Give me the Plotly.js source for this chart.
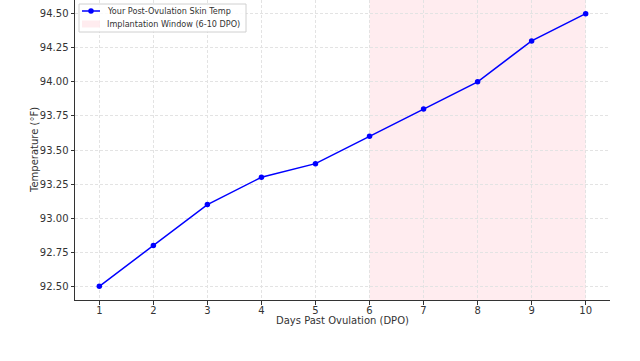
<!DOCTYPE html>
<html><head><meta charset="utf-8">
<script src="https://cdn.plot.ly/plotly-3.0.1.min.js"></script>
<style>html,body{margin:0;padding:0;background:#fff}#chart{width:640px;height:361px}</style>
</head><body><div id="chart"></div>
<script>
const days = [1, 2, 3, 4, 5, 6, 7, 8, 9, 10];
const temps = [92.5, 92.8, 93.1, 93.3, 93.4, 93.6, 93.8, 94.0, 94.3, 94.5];
const windowStart = 6;
const windowEnd = 10;
const xTicks = [1, 2, 3, 4, 5, 6, 7, 8, 9, 10];
const yTicks = [92.5, 92.75, 93.0, 93.25, 93.5, 93.75, 94.0, 94.25, 94.5];
const yTickText = yTicks.map(v => v.toFixed(2));
const seriesName = 'Your Post-Ovulation Skin Temp';
const windowName = 'Implantation Window (6-10 DPO)';

const LINE = '#0000ff';
const PINK = 'rgba(255,192,203,0.3)';
const FAM = 'DejaVu Sans, sans-serif';
// plot area in px: x 75..610, y 0..300
const PW = 535, PH = 300, PL = 75;
const px = v => (v - PL) / PW;
const py = v => (PH - v) / PH;

const traces = [{
  x: days, y: temps, type: 'scatter', mode: 'lines+markers',
  name: seriesName, showlegend: false,
  line: {color: LINE, width: 1.5},
  marker: {color: LINE, size: 5.5}
}];

const shapes = [
  {type: 'rect', xref: 'x', yref: 'paper', x0: windowStart, x1: windowEnd, y0: 0, y1: 1,
   fillcolor: PINK, line: {width: 0}, layer: 'below'},
  // legend box
  {type: 'rect', xref: 'paper', yref: 'paper', x0: px(79), x1: px(246), y0: py(32), y1: py(4),
   fillcolor: 'rgba(255,255,255,0.85)', line: {color: '#d0d0d0', width: 1}, layer: 'above'},
  {type: 'line', xref: 'paper', yref: 'paper', x0: px(82), x1: px(100), y0: py(11), y1: py(11),
   line: {color: LINE, width: 1.5}},
  {type: 'circle', xref: 'paper', yref: 'paper', xsizemode: 'pixel', ysizemode: 'pixel',
   xanchor: px(91), yanchor: py(11), x0: -2.75, x1: 2.75, y0: -2.75, y1: 2.75,
   fillcolor: LINE, line: {width: 0}},
  {type: 'rect', xref: 'paper', yref: 'paper', x0: px(82), x1: px(100), y0: py(27.5), y1: py(20.5),
   fillcolor: PINK, line: {width: 0}}
];

const annotations = [
  {text: seriesName, xref: 'paper', yref: 'paper', x: px(105), y: py(11), xanchor: 'left', yanchor: 'middle',
   showarrow: false, font: {family: FAM, size: 8.1, color: '#333'}},
  {text: windowName, xref: 'paper', yref: 'paper', x: px(105), y: py(24), xanchor: 'left', yanchor: 'middle',
   showarrow: false, font: {family: FAM, size: 8.1, color: '#333'}},
  {text: 'Temperature (°F)', textangle: -90, xref: 'paper', yref: 'paper',
   x: px(34), y: 0.5, xanchor: 'center', yanchor: 'middle', showarrow: false,
   font: {family: FAM, size: 10, color: '#333'}},
  {text: 'Days Past Ovulation (DPO)', xref: 'paper', yref: 'paper',
   x: 0.5, y: py(320), xanchor: 'center', yanchor: 'middle', showarrow: false,
   font: {family: FAM, size: 10, color: '#333'}}
];

const axisCommon = {
  ticks: 'outside', ticklen: 3.5, tickcolor: '#333', showline: true, linecolor: '#333', linewidth: 1,
  showgrid: true, gridcolor: '#e3e3e3', griddash: '3px,2px', zeroline: false,
  tickfont: {family: FAM, size: 10, color: '#333'}
};

const layout = {
  width: 640, height: 361,
  margin: {l: 75, r: 30, t: 0, b: 61},
  paper_bgcolor: '#fff', plot_bgcolor: '#fff',
  font: {family: FAM, size: 10, color: '#333'},
  showlegend: false,
  xaxis: Object.assign({range: [0.55, 10.45], tickmode: 'array', tickvals: xTicks, ticklabelstandoff: -3}, axisCommon),
  yaxis: Object.assign({range: [92.4, 94.6], tickmode: 'array', tickvals: yTicks, ticktext: yTickText}, axisCommon),
  shapes: shapes,
  annotations: annotations
};
Plotly.newPlot('chart', traces, layout, {displayModeBar: false});
</script></body></html>
